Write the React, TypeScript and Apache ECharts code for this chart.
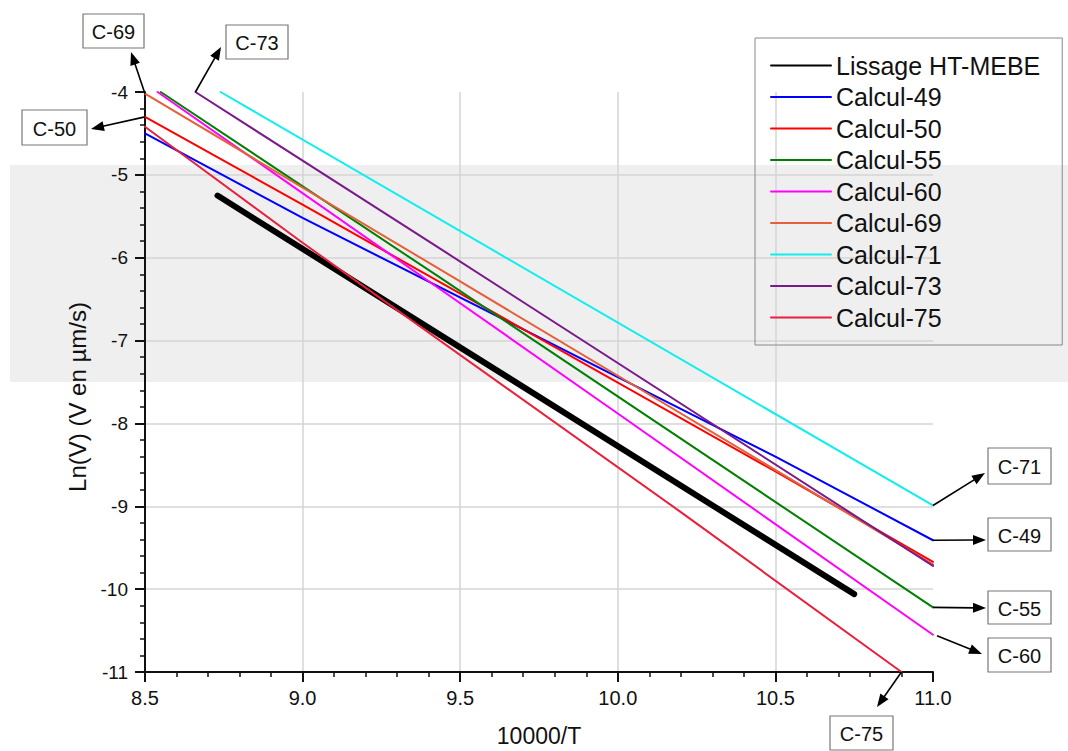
import React, { useEffect, useRef } from "react";
import * as echarts from "echarts";

const FONT = "'Liberation Sans', Arial, Helvetica, sans-serif";

// Series data: [10000/T, Ln(V)]
const lissage: number[][] = [[8.73, -5.25], [10.75, -10.06]];
const calcul49: number[][] = [[8.5, -4.5], [9.0, -5.52], [10.0, -7.44], [10.5, -8.4], [11.0, -9.41]];
const calcul50: number[][] = [[8.5, -4.3], [9.0, -5.36], [10.5, -8.58], [11.0, -9.67]];
const calcul55: number[][] = [[8.55, -4.0], [9.44, -6.25], [11.0, -10.22]];
const calcul60: number[][] = [[8.54, -4.0], [9.44, -6.39], [10.0, -7.88], [11.0, -10.55]];
const calcul69: number[][] = [[8.5, -4.02], [9.44, -6.15], [11.0, -9.7]];
const calcul71: number[][] = [[8.74, -4.0], [9.6, -5.9], [11.0, -8.99]];
const calcul73: number[][] = [[8.66, -4.0], [9.44, -5.9], [11.0, -9.72]];
const calcul75: number[][] = [[8.5, -4.42], [9.0, -5.82], [10.2, -9.07], [10.9, -11.0]];

const seriesNames = [
  "Lissage HT-MEBE",
  "Calcul-49",
  "Calcul-50",
  "Calcul-55",
  "Calcul-60",
  "Calcul-69",
  "Calcul-71",
  "Calcul-73",
  "Calcul-75",
];
const seriesData = [lissage, calcul49, calcul50, calcul55, calcul60, calcul69, calcul71, calcul73, calcul75];
const seriesColors = ["#000000", "#0000FF", "#FF0000", "#008000", "#FF00FF", "#E5603A", "#10EEEE", "#7A1A8A", "#E8203C"];
const seriesWidths = [6, 2, 2, 2, 2, 2, 2, 2, 2];

const xMin = 8.5, xMax = 11, xInterval = 0.5;
const yMin = -11, yMax = -4, yInterval = 1;

// Callout labels: text, which series, which end of that series, box [x, y, w, h], arrow tip [x, y]
const callouts = [
  { text: "C-69", series: 5, end: "start", box: [83, 14, 61, 34], tip: [131, 52], off: [0, 0] },
  { text: "C-73", series: 7, end: "start", box: [226, 25, 62, 34], tip: [221, 47], off: [0, 0] },
  { text: "C-50", series: 2, end: "start", box: [22, 110, 65, 35], tip: [91, 129], off: [0, 0] },
  { text: "C-71", series: 6, end: "end", box: [988, 448, 63, 36], tip: [985, 473], off: [0, 0] },
  { text: "C-49", series: 1, end: "end", box: [988, 518, 63, 33], tip: [986, 540], off: [0, 0] },
  { text: "C-55", series: 3, end: "end", box: [988, 591, 63, 33], tip: [986, 608], off: [0, 0] },
  { text: "C-60", series: 4, end: "end", box: [988, 638, 63, 34], tip: [982, 654], off: [4, 1] },
  { text: "C-75", series: 8, end: "end", box: [830, 716, 63, 34], tip: [877, 707], off: [0, 0] },
];

function arrow(x1: number, y1: number, x2: number, y2: number) {
  const dx = x2 - x1, dy = y2 - y1;
  const L = Math.hypot(dx, dy) || 1;
  const ux = dx / L, uy = dy / L;
  const head = 13, hw = 5;
  const bx = x2 - ux * head, by = y2 - uy * head;
  return [
    {
      type: "line",
      shape: { x1, y1, x2: bx + ux * 2, y2: by + uy * 2 },
      style: { stroke: "#000", lineWidth: 1.6 },
      z: 20,
      silent: true,
    },
    {
      type: "polygon",
      shape: { points: [[x2, y2], [bx - uy * hw, by + ux * hw], [bx + uy * hw, by - ux * hw]] },
      style: { fill: "#000" },
      z: 20,
      silent: true,
    },
  ];
}

export default function App() {
  const ref = useRef<HTMLDivElement>(null);
  useEffect(() => {
    if (!ref.current) return;
    const chart = echarts.init(ref.current, undefined, { renderer: "svg" });
    const axisCommon = {
      type: "value",
      nameLocation: "middle",
      axisLine: { show: true, onZero: false, lineStyle: { color: "#111", width: 2 } },
      axisTick: { show: true, inside: false, length: 10, lineStyle: { color: "#111", width: 2 } },
      minorTick: { show: true, splitNumber: 5, length: 5, lineStyle: { color: "#111", width: 1.5 } },
      splitLine: { show: true, showMinLine: false, showMaxLine: false, lineStyle: { color: "#d4d4d4", width: 1.5 } },
    };
    const option: any = {
      animation: false,
      backgroundColor: "#ffffff",
      textStyle: { fontFamily: FONT },
      grid: { left: 145, right: 135, top: 92, bottom: 79, containLabel: false, outerBoundsMode: "none" },
      xAxis: {
        ...axisCommon,
        min: xMin,
        max: xMax,
        interval: xInterval,
        name: "10000/T",
        nameGap: 52,
        nameTextStyle: { fontSize: 23, color: "#111", fontFamily: FONT },
        axisLabel: { fontSize: 20, color: "#111", margin: 16, fontFamily: FONT, formatter: (v: number) => v.toFixed(1) },
      },
      yAxis: {
        ...axisCommon,
        min: yMin,
        max: yMax,
        interval: yInterval,
        name: "Ln(V) (V en µm/s)",
        nameGap: 52,
        nameTextStyle: { fontSize: 24, color: "#111", fontFamily: FONT, padding: [0, 30, 0, 0] },
        axisLabel: { fontSize: 19, color: "#111", margin: 17, fontFamily: FONT, formatter: (v: number) => String(v) },
      },
      legend: {
        orient: "vertical",
        left: 755,
        top: 38,
        padding: [15, 22, 15, 15],
        itemWidth: 60,
        itemHeight: 14,
        itemGap: 6.5,
        borderColor: "#888",
        borderWidth: 1,
        backgroundColor: "transparent",
        itemStyle: { opacity: 0 },
        textStyle: { fontSize: 25, lineHeight: 24, color: "#111", fontFamily: FONT },
        data: seriesNames,
      },
      series: seriesNames.map((name, i) => ({
        name,
        type: "line",
        data: seriesData[i],
        symbol: "none",
        showSymbol: false,
        clip: false,
        z: i === 0 ? 3 : 4,
        lineStyle: { color: seriesColors[i], width: seriesWidths[i], cap: "round" },
        itemStyle: { color: seriesColors[i] },
      })),
    };
    chart.setOption(option);

    const graphics: any[] = [
      {
        type: "rect",
        shape: { x: 10, y: 165, width: 1058, height: 217 },
        style: { fill: "#efefef" },
        z: -10,
        silent: true,
      },
    ];
    callouts.forEach((c) => {
      const d = seriesData[c.series];
      const pt = c.end === "start" ? d[0] : d[d.length - 1];
      const p = chart.convertToPixel({ gridIndex: 0 }, pt) as number[];
      graphics.push(...arrow(p[0] + c.off[0], p[1] + c.off[1], c.tip[0], c.tip[1]));
      const [bx, by, bw, bh] = c.box;
      graphics.push({
        type: "rect",
        shape: { x: bx, y: by, width: bw, height: bh },
        style: { fill: "#ffffff", stroke: "#777", lineWidth: 1.2 },
        z: 21,
        silent: true,
      });
      graphics.push({
        type: "text",
        x: bx + bw / 2,
        y: by + bh / 2 + 1,
        style: { text: c.text, align: "center", verticalAlign: "middle", fontSize: 20, fill: "#111", fontFamily: FONT },
        z: 22,
        silent: true,
      });
    });
    chart.setOption({ graphic: graphics });

    return () => chart.dispose();
  }, []);
  return <div ref={ref} style={{ position: "fixed", left: 0, top: 0, width: 1068, height: 751 }} />;
}
